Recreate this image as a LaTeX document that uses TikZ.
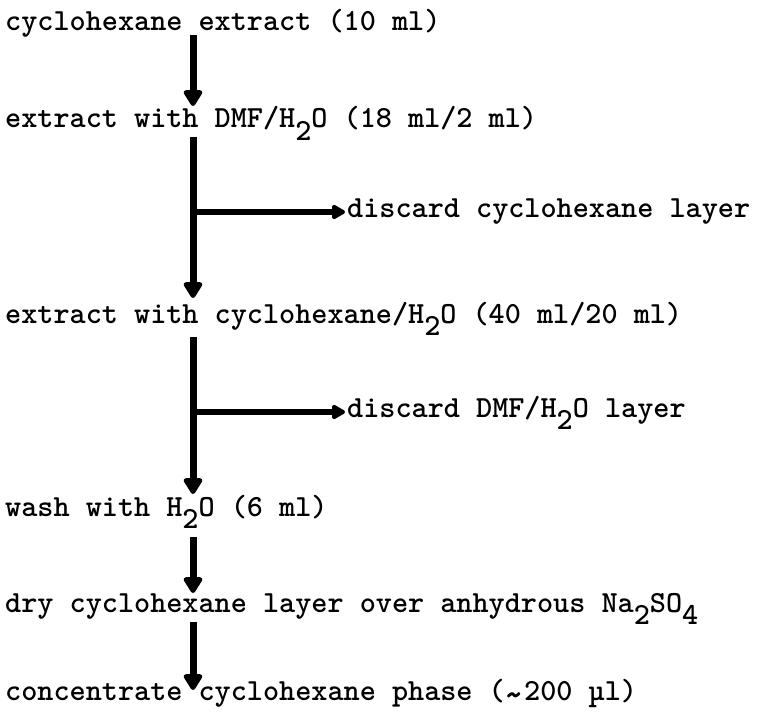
\documentclass[tikz,border=0pt]{standalone}
\usepackage{fontspec}
\usetikzlibrary{arrows.meta}
\newcommand\lowsub[1]{\raisebox{-0.42em}{#1}}
\newcommand\swung{\raisebox{-0.26em}{\scalebox{1.2}[1.3]{\textasciitilde}}}
\begin{document}
\begin{tikzpicture}[x=1pt,y=-1pt,
  lbl/.style={anchor=base west, inner sep=0pt, font=\ttfamily\bfseries\fontsize{30.7}{34}\selectfont},
  arr/.style={line width=7pt, -{Triangle[width=21pt,length=18pt,round]}},
  brn/.style={line width=6pt, -{Triangle[width=16pt,length=15pt,round]}}]
\useasboundingbox (0,0) rectangle (757,714);
\coordinate (spine) at (193,0);
\node[lbl] (l1) at (5,31) {cyclohexane extract (10 ml)};
\node[lbl] (l2) at (5,128) {extract with DMF/H\lowsub{2}O (18 ml/2 ml)};
\node[lbl] (d1) at (347,217) {discard cyclohexane layer};
\node[lbl] (l4) at (5,323) {extract with cyclohexane/H\lowsub{2}O (40 ml/20 ml)};
\node[lbl] (d2) at (347,417) {discard DMF/H\lowsub{2}O layer};
\node[lbl] (l6) at (5,516) {wash with H\lowsub{2}O (6 ml)};
\node[lbl] (l7) at (5,612) {dry cyclohexane layer over anhydrous Na\lowsub{2}SO\lowsub{4}};
\node[lbl] (l8) at (5,700) {concentrate cyclohexane phase (\swung200 µl)};
% main arrows
\draw[arr] ([yshift=-4pt]l1.base -| spine) -- ([yshift=22pt]l2.base -| spine);
\draw[arr] ([yshift=-9pt]l2.base -| spine) -- ([yshift=25pt]l4.base -| spine);
\draw[arr] ([yshift=-14pt]l4.base -| spine) -- ([yshift=22pt]l6.base -| spine);
\draw[arr] ([yshift=-21pt]l6.base -| spine) -- ([yshift=19pt]l7.base -| spine);
\draw[arr] ([yshift=-10pt]l7.base -| spine) -- ([yshift=10pt]l8.base -| spine);
% branches
\draw[brn] ([yshift=5pt]d1.base west -| spine) -- ([xshift=-2pt,yshift=5pt]d1.base west);
\draw[brn] ([yshift=5pt]d2.base west -| spine) -- ([xshift=-2pt,yshift=5pt]d2.base west);
\end{tikzpicture}
\end{document}
